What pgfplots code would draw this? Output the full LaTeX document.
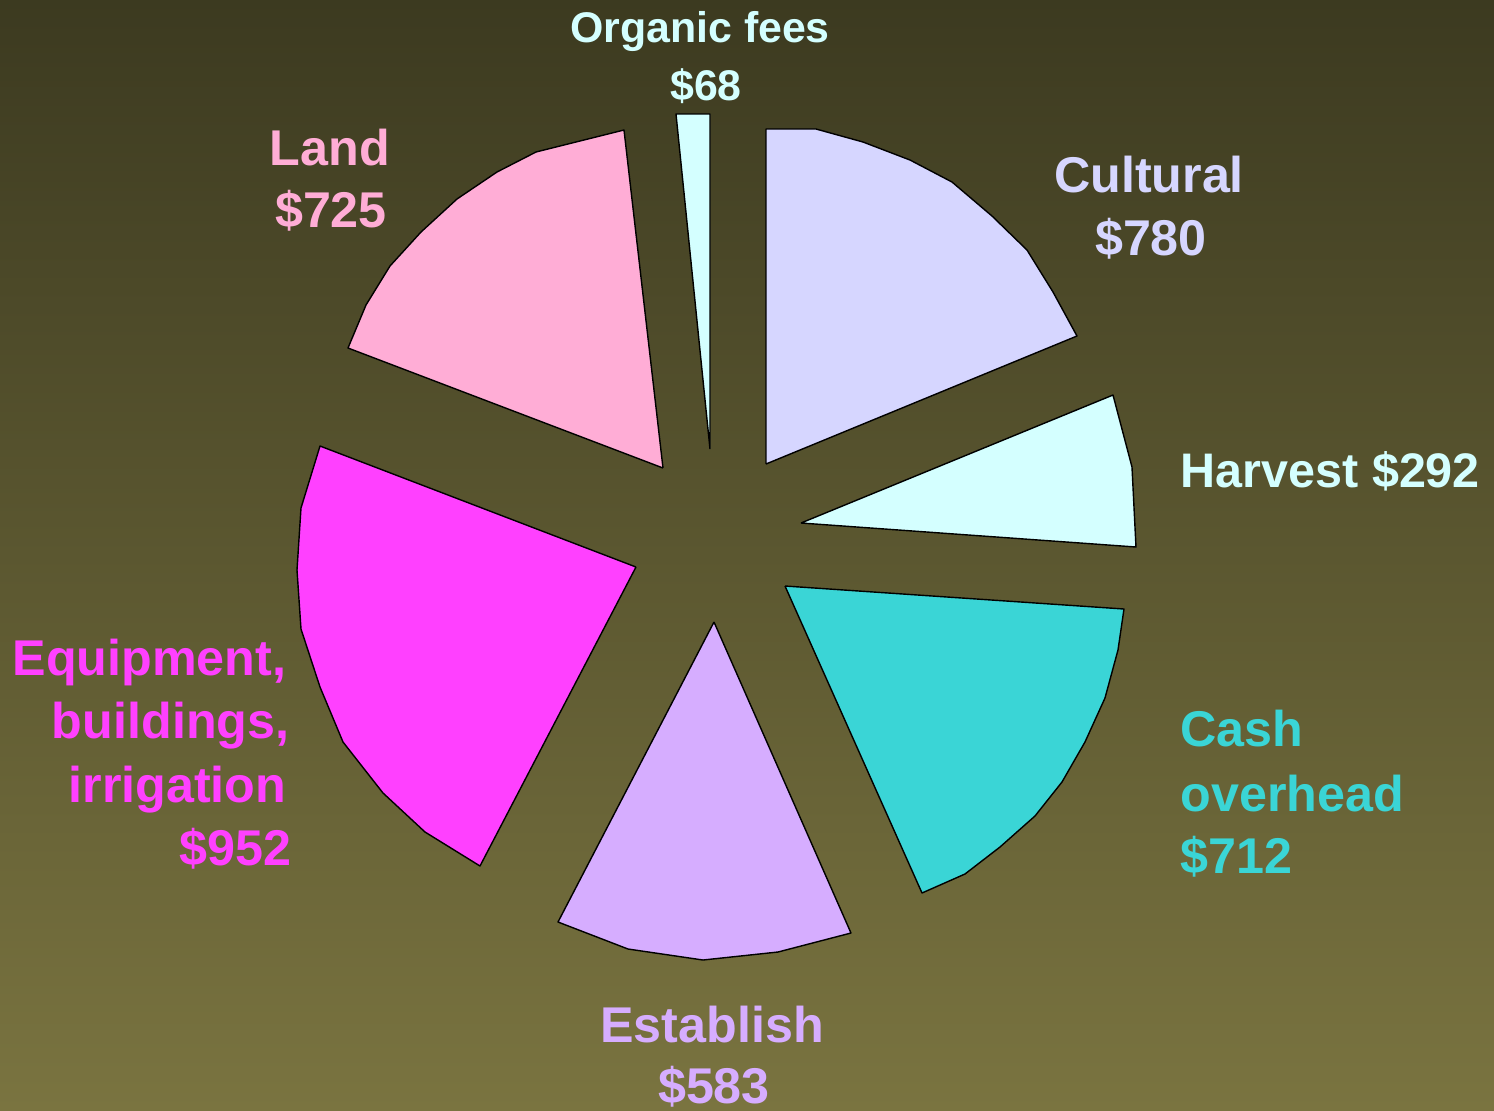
\documentclass[border=0pt]{standalone}
\usepackage{pgfplots}
\pgfplotsset{compat=1.18}
\usepackage{fontspec}
\setmainfont{Liberation Sans}

\definecolor{bgtop}{RGB}{60,58,32}
\definecolor{bgbot}{RGB}{122,116,64}
\definecolor{cultural}{RGB}{214,214,255}
\definecolor{harvest}{RGB}{212,255,255}
\definecolor{cash}{RGB}{58,213,214}
\definecolor{establish}{RGB}{214,173,255}
\definecolor{equip}{RGB}{255,64,255}
\definecolor{land}{RGB}{255,173,214}
\definecolor{organic}{RGB}{212,255,255}

\tikzset{
  lbl/.style={font=\bfseries\fontsize{14.3}{18}\selectfont, inner sep=0pt},
  lblmid/.style={font=\bfseries\fontsize{13.8}{18}\selectfont, inner sep=0pt},
  lblsmall/.style={font=\bfseries\fontsize{12.2}{15}\selectfont, inner sep=0pt},
}

\begin{document}
\begin{tikzpicture}
\begin{axis}[
  scale only axis,
  width=14.94cm, height=11.1cm,
  xmin=0, xmax=1494, ymin=0, ymax=1110,
  y dir=reverse,
  axis line style={draw=none},
  ticks=none,
  clip=false,
  axis background/.style={top color=bgtop, bottom color=bgbot},
  every axis plot/.append style={draw=black, line width=0.4pt, line join=round},
]
% costs per acre, clockwise from 12 o'clock (exploded slices, outline vertices)
% Cultural 780
\addplot[fill=cultural] coordinates {
  (766,464) (766,129) (816,129) (863,142) (910,160) (952,182)
  (992,216) (1027,250) (1053,292) (1077,336) (766,464)
};
% Harvest 292
\addplot[fill=harvest] coordinates {
  (801,523) (1113,395) (1132,467) (1136,547) (801,523)
};
% Cash overhead 712
\addplot[fill=cash] coordinates {
  (785,586) (1124,609) (1118,650) (1105,698) (1085,742) (1062,782)
  (1035,816) (1000,847) (965,874) (922,893) (785,586)
};
% Establish 583
\addplot[fill=establish] coordinates {
  (714,622) (851,933) (778,952) (703,960) (628,949) (558,922) (714,622)
};
% Equipment, buildings, irrigation 952
\addplot[fill=equip] coordinates {
  (636,567) (480,866) (425,832) (383,793) (343,742) (320,687)
  (301,629) (297,570) (301,508) (320,446) (636,567)
};
% Land 725
\addplot[fill=land] coordinates {
  (663,468) (348,348) (366,305) (390,266) (421,232) (457,199)
  (497,172) (536,152) (624,130) (663,468)
};
% Organic fees 68
\addplot[fill=organic] coordinates {
  (710,449) (676,114) (710,114) (710,449)
};

% labels
\node[lblsmall, text=organic, anchor=base] at (axis cs:700,42) {Organic fees};
\node[lblsmall, text=organic, anchor=base] at (axis cs:706,100) {\$68};
\node[lbl, text=land, anchor=base] at (axis cs:330,165) {Land};
\node[lbl, text=land, anchor=base] at (axis cs:331,227) {\$725};
\node[lbl, text=cultural, anchor=base] at (axis cs:1149,192) {Cultural};
\node[lbl, text=cultural, anchor=base] at (axis cs:1151,255) {\$780};
\node[lblmid, text=harvest, anchor=base west] at (axis cs:1180,487) {Harvest \$292};
\node[lbl, text=cash, anchor=base west] at (axis cs:1180,746) {Cash};
\node[lbl, text=cash, anchor=base west] at (axis cs:1180,811) {overhead};
\node[lbl, text=cash, anchor=base west] at (axis cs:1180,873) {\$712};
\node[lbl, text=establish, anchor=base] at (axis cs:712,1042) {Establish};
\node[lbl, text=establish, anchor=base] at (axis cs:714,1103) {\$583};
\node[lbl, text=equip, anchor=base east] at (axis cs:287,675) {Equipment,};
\node[lbl, text=equip, anchor=base east] at (axis cs:290,738) {buildings,};
\node[lbl, text=equip, anchor=base east] at (axis cs:287,802) {irrigation};
\node[lbl, text=equip, anchor=base east] at (axis cs:292,865) {\$952};
\end{axis}
\end{tikzpicture}
\end{document}
